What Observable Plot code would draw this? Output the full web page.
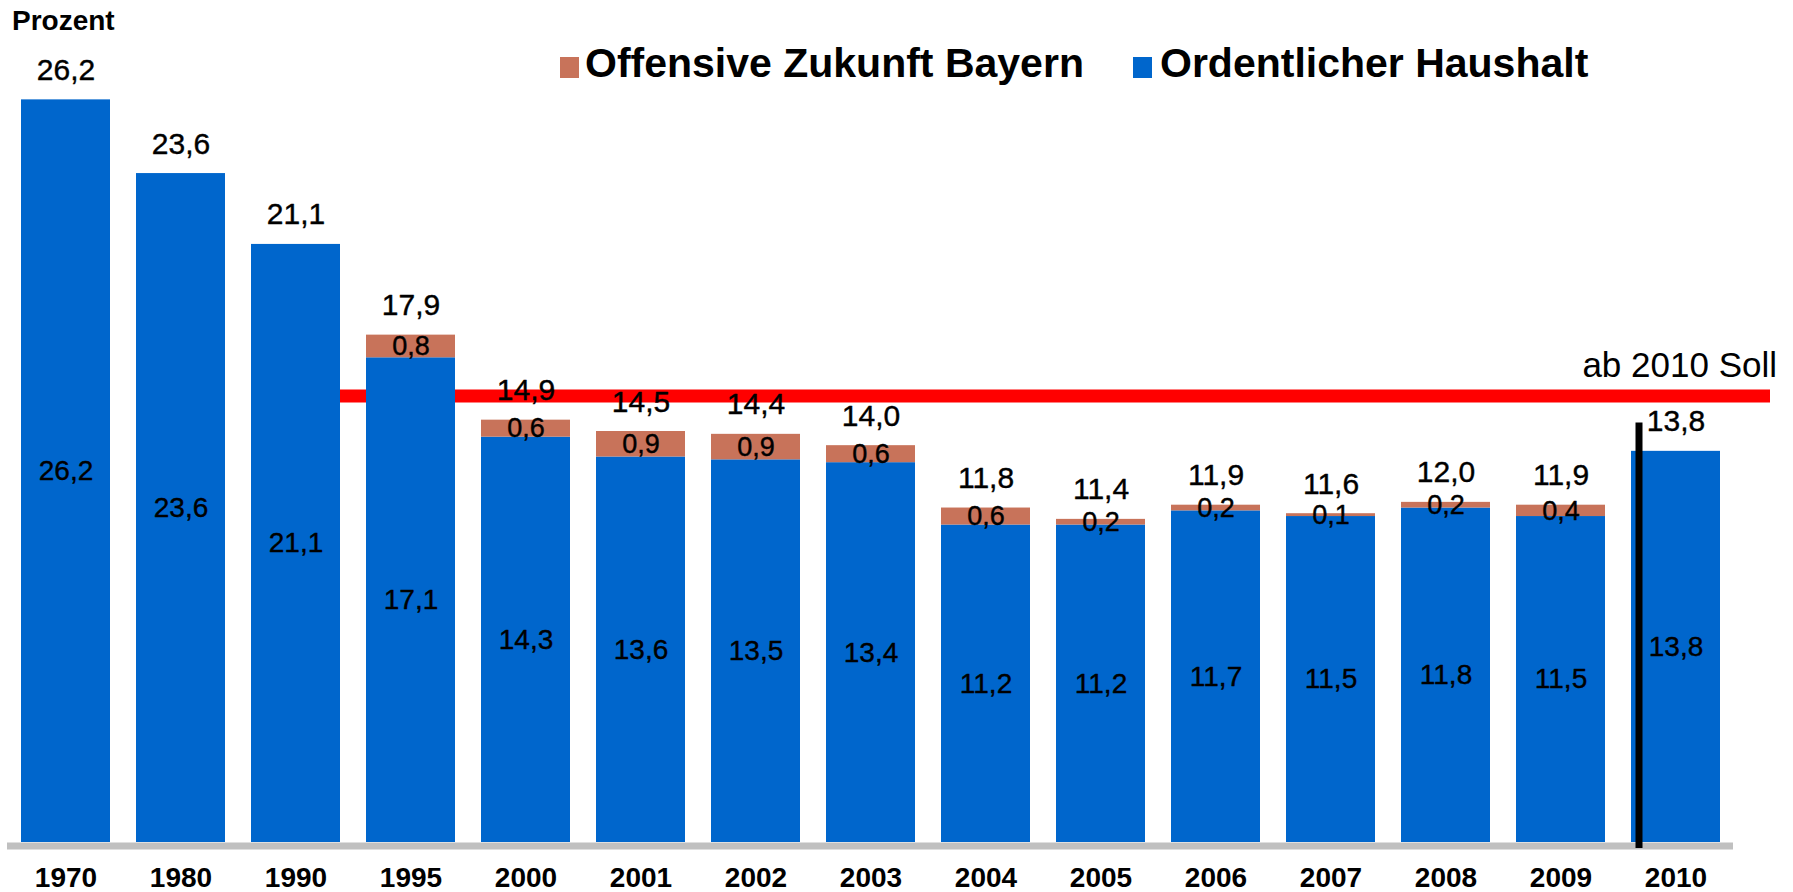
<!DOCTYPE html>
<html>
<head>
<meta charset="utf-8">
<script src="https://cdn.jsdelivr.net/npm/d3@7"></script>
<script src="https://cdn.jsdelivr.net/npm/@observablehq/plot@0.6"></script>
<style>
  body { margin: 0; background: #fff; font-family: "Liberation Sans", Arial, sans-serif; }
  #wrap { position: relative; width: 1793px; height: 892px; }
  #wrap svg { position: absolute; left: 0; top: 0; }
  .abs { position: absolute; line-height: 1; white-space: nowrap; color: #000; }
  #prozent { left: 12px; top: 7px; font-size: 28px; font-weight: bold; }
  .legtext { font-size: 41px; font-weight: bold; top: 43px; }
  .sw { position: absolute; top: 57px; width: 19px; height: 21px; }
</style>
</head>
<body>
<div id="wrap">
  <div id="chart"></div>
  <div class="abs" id="prozent">Prozent</div>
  <div class="sw" id="sw1"></div>
  <div class="abs legtext" id="lt1"></div>
  <div class="sw" id="sw2"></div>
  <div class="abs legtext" id="lt2"></div>
</div>
<script>
// ---- data ----
const years = ["1970","1980","1990","1995","2000","2001","2002","2003","2004","2005","2006","2007","2008","2009","2010"];
const ordentlich = [26.2,23.6,21.1,17.1,14.3,13.6,13.5,13.4,11.2,11.2,11.7,11.5,11.8,11.5,13.8];
const offensive  = [0,0,0,0.8,0.6,0.9,0.9,0.6,0.6,0.2,0.2,0.1,0.2,0.4,0];
const totals     = [26.2,23.6,21.1,17.9,14.9,14.5,14.4,14.0,11.8,11.4,11.9,11.6,12.0,11.9,13.8];
const seriesNames = ["Offensive Zukunft Bayern", "Ordentlicher Haushalt"];
const sollValue = 15.75;     // red target line "ab 2010 Soll"
const sollLabel = "ab 2010 Soll";
const markerYear = "2010";
const markerTop = 14.8;      // black vertical marker height

const colOff = "#C8735A";
const colOrd = "#0066CC";

const fmt = v => v.toFixed(1).replace(".", ",");

const rows = years.map((y, i) => ({
  year: y, ord: ordentlich[i], off: offensive[i], total: totals[i],
  top: ordentlich[i] + offensive[i]
}));
const offRows = rows.filter(d => d.off > 0);

const textStyle = { fill: "#000", stroke: "#000", strokeWidth: 0.4 };

const chart = Plot.plot({
  width: 1793,
  height: 892,
  marginLeft: 7,
  marginRight: 60,
  marginTop: 20,
  marginBottom: 50,
  style: { fontFamily: "'Liberation Sans', Arial, sans-serif", background: "transparent", overflow: "visible" },
  x: { type: "band", domain: years, padding: 0, axis: null },
  y: { domain: [0, 29], axis: null },
  marks: [
    // red target line (behind bars)
    Plot.ruleY([sollValue], { x1: () => "1995", x2: () => markerYear, stroke: "#FF0000", strokeWidth: 13, insetLeft: -14, insetRight: -37 }),
    // bars
    Plot.barY(rows, { x: "year", y1: 0, y2: "ord", fill: colOrd, insetLeft: 13, insetRight: 13 }),
    Plot.barY(offRows, { x: "year", y1: "ord", y2: "top", fill: colOff, insetLeft: 13, insetRight: 13 }),
    // baseline
    Plot.ruleY([0], { stroke: "#C0C0C0", strokeWidth: 7, dy: 3.5 }),
    // black marker
    Plot.ruleX([markerYear], { x: d => d, y1: markerTop, y2: 0, stroke: "#000", strokeWidth: 7, dx: -37, insetBottom: -6 }),
    // year axis
    Plot.axisX({ domain: years, label: null, tickSize: 0, tickPadding: 25, fontSize: 28, fontWeight: "bold", fill: "#000" }),
    // labels
    Plot.text(rows, { x: "year", y: "total", text: d => fmt(d.total), lineAnchor: "bottom", dy: -20, fontSize: 30, ...textStyle }),
    Plot.text(rows, { x: "year", y: d => d.ord / 2, text: d => fmt(d.ord), lineAnchor: "middle", fontSize: 28, ...textStyle }),
    Plot.text(offRows, { x: "year", y: d => d.ord + d.off / 2, text: d => fmt(d.off), lineAnchor: "middle", fontSize: 27, ...textStyle }),
    Plot.text([sollLabel], { x: () => markerYear, y: () => sollValue, text: d => d, textAnchor: "end", lineAnchor: "bottom", dx: 101, dy: -19, fontSize: 35, fill: "#000" })
  ]
});
document.getElementById("chart").appendChild(chart);

// legend (HTML overlay)
const sw1 = document.getElementById("sw1"), sw2 = document.getElementById("sw2");
const lt1 = document.getElementById("lt1"), lt2 = document.getElementById("lt2");
sw1.style.left = "560px"; sw1.style.background = colOff;
lt1.style.left = "585px"; lt1.textContent = seriesNames[0];
sw2.style.left = "1133px"; sw2.style.background = colOrd;
lt2.style.left = "1160px"; lt2.textContent = seriesNames[1];
</script>
</body>
</html>
